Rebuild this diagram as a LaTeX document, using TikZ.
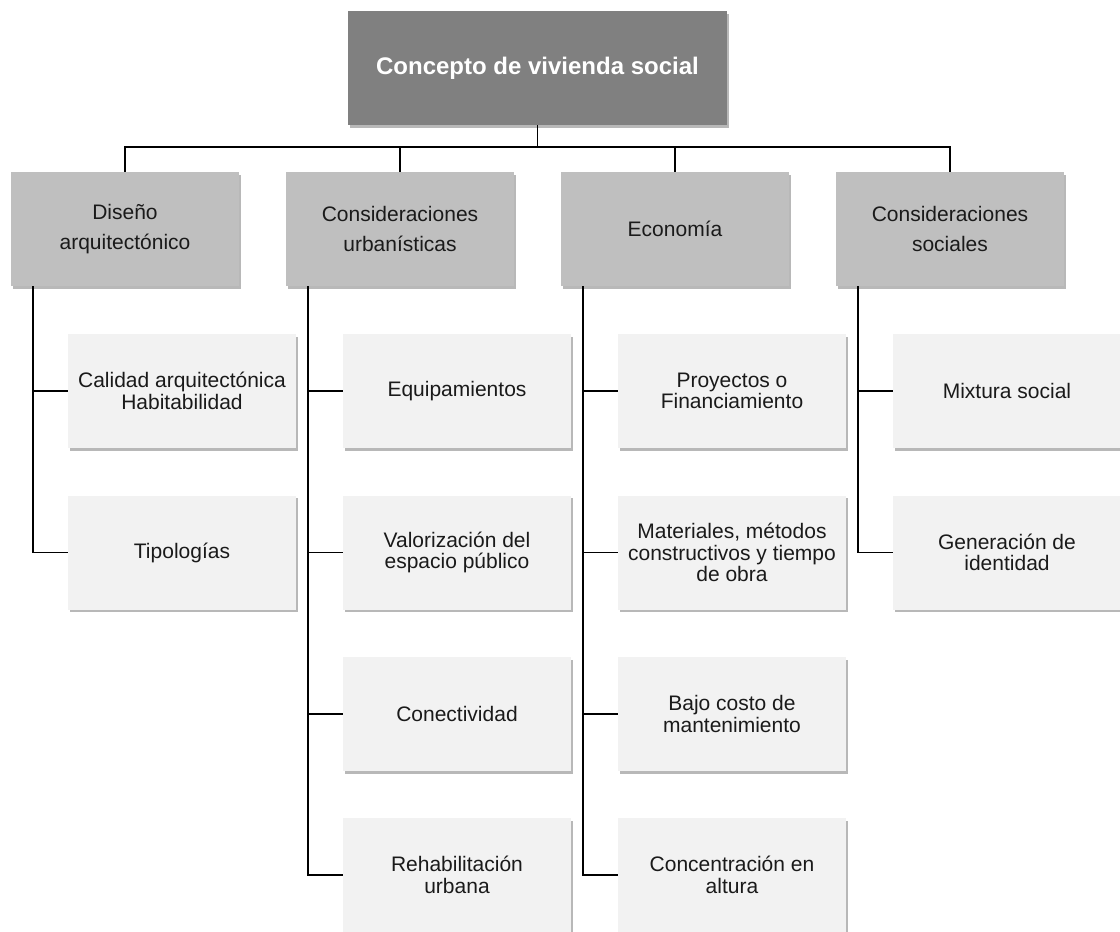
\documentclass[tikz,border=0pt]{standalone}
\usepackage{fontspec}
\setmainfont{Liberation Sans}
\usetikzlibrary{shadows}
\definecolor{rootfill}{HTML}{808080}
\definecolor{midfill}{HTML}{BFBFBF}
\definecolor{leaffill}{HTML}{F2F2F2}
\definecolor{txt}{HTML}{1A1A1A}
\tikzset{
  shade box/.style={drop shadow={shadow xshift=1.5pt,shadow yshift=-2.5pt,opacity=0.28,fill=black}},
  rootbox/.style={shade box,fill=rootfill,minimum width=379pt,minimum height=114pt,inner sep=0pt,
    text=white,font=\fontsize{24}{28}\selectfont\bfseries,align=center},
  midbox/.style={shade box,fill=midfill,minimum width=228pt,minimum height=114pt,inner sep=0pt,
    text=txt,font=\fontsize{21}{29.5}\selectfont,align=center},
  leafbox/.style={shade box,fill=leaffill,minimum width=228pt,minimum height=114pt,inner sep=0pt,
    text=txt,font=\fontsize{21}{21.5}\selectfont,align=center},
  link/.style={draw=black,line width=1.5pt}
}
\begin{document}
\begin{tikzpicture}[x=1pt,y=-1pt]
\useasboundingbox (0,0) rectangle (1120,932);
\clip (0,0) rectangle (1120,932);
\node[rootbox] (root) at (537.5,68) {Concepto de vivienda social};
\node[midbox] (m1) at (125,229) {Diseño\\arquitectónico};
\node[midbox] (m2) at (400,229) {Consideraciones\\urbanísticas};
\node[midbox] (m3) at (675,229) {Economía};
\node[midbox] (m4) at (950,229) {Consideraciones\\sociales};
% column 1
\node[leafbox] (a1) at (182,391) {Calidad arquitectónica\\Habitabilidad};
\node[leafbox] (a2) at (182,552.5) {Tipologías};
% column 2
\node[leafbox] (b1) at (457,391) {Equipamientos};
\node[leafbox] (b2) at (457,552.5) {Valorización del\\espacio público};
\node[leafbox] (b3) at (457,714) {Conectividad};
\node[leafbox] (b4) at (457,875) {Rehabilitación\\urbana};
% column 3
\node[leafbox] (c1) at (732,391) {Proyectos o\\Financiamiento};
\node[leafbox] (c2) at (732,552.5) {Materiales, métodos\\constructivos y tiempo\\de obra};
\node[leafbox] (c3) at (732,714) {Bajo costo de\\mantenimiento};
\node[leafbox] (c4) at (732,875) {Concentración en\\altura};
% column 4
\node[leafbox] (d1) at (1007,391) {Mixtura social};
\node[leafbox] (d2) at (1007,552.5) {Generación de\\identidad};
% top connectors
\coordinate (bus) at (537.5,147);
\draw[link] (root.south) -- (bus);
\draw[link] (m1.north) -- (m1.north |- bus) -- (m4.north |- bus) -- (m4.north);
\draw[link] (m2.north |- bus) -- (m2.north);
\draw[link] (m3.north |- bus) -- (m3.north);
% spines
\coordinate (s1) at ([xshift=22pt]m1.south west);
\coordinate (s2) at ([xshift=22pt]m2.south west);
\coordinate (s3) at ([xshift=22pt]m3.south west);
\coordinate (s4) at ([xshift=22pt]m4.south west);
\draw[link] (s1) -- (s1 |- a2.west) -- (a2.west);
\draw[link] (s1 |- a1.west) -- (a1.west);
\draw[link] (s2) -- (s2 |- b4.west) -- (b4.west);
\foreach \n in {b1,b2,b3} \draw[link] (s2 |- \n.west) -- (\n.west);
\draw[link] (s3) -- (s3 |- c4.west) -- (c4.west);
\foreach \n in {c1,c2,c3} \draw[link] (s3 |- \n.west) -- (\n.west);
\draw[link] (s4) -- (s4 |- d2.west) -- (d2.west);
\draw[link] (s4 |- d1.west) -- (d1.west);
\end{tikzpicture}
\end{document}
